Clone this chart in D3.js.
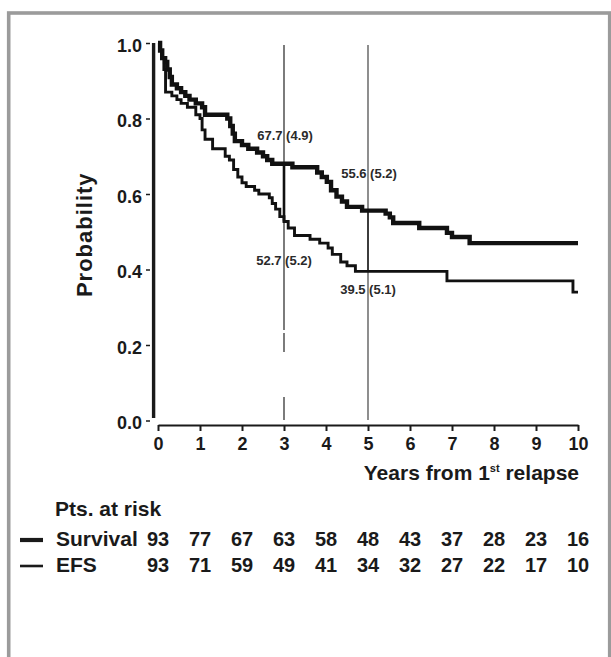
<!DOCTYPE html>
<html>
<head>
<meta charset="utf-8">
<script src="https://cdn.jsdelivr.net/npm/d3@7"></script>
<style>
    html, body { margin: 0; padding: 0; background: #fff; }
    svg { display: block; font-family: 'Liberation Sans', Arial, sans-serif; font-weight: bold; }
</style>
</head>
<body>
<div id="chart"></div>
<script>
/* ===== KAPLAN-MEIER PLOT: SURVIVAL / EFS AFTER 1ST RELAPSE ===== */

// x axis ticks (years) and y axis ticks (probability)
const years = [0, 1, 2, 3, 4, 5, 6, 7, 8, 9, 10];
const probTicks = [0, 0.2, 0.4, 0.6, 0.8, 1.0];

// step points [years, probability]
const survivalSteps = [
    [0, 1.0], [0.05, 0.98], [0.1, 0.96], [0.17, 0.95], [0.22, 0.93], [0.28, 0.91],
    [0.33, 0.89], [0.45, 0.88], [0.55, 0.87], [0.65, 0.86], [0.75, 0.85], [0.9, 0.84],
    [1.05, 0.83], [1.12, 0.81], [1.65, 0.80], [1.72, 0.78], [1.78, 0.76], [1.83, 0.74],
    [2.0, 0.73], [2.15, 0.72], [2.36, 0.71], [2.5, 0.70], [2.6, 0.69], [2.72, 0.68],
    [3.2, 0.671], [3.79, 0.657], [3.9, 0.645], [4.02, 0.632], [4.12, 0.61], [4.25, 0.593],
    [4.38, 0.58], [4.5, 0.566], [4.86, 0.556], [5.42, 0.548], [5.52, 0.538], [5.6, 0.523],
    [6.22, 0.51], [6.88, 0.497], [7.0, 0.486], [7.42, 0.47], [10, 0.47]
];

const efsSteps = [
    [0, 1.0], [0.05, 0.98], [0.1, 0.96], [0.14, 0.93], [0.18, 0.87], [0.33, 0.86],
    [0.45, 0.85], [0.55, 0.84], [0.7, 0.83], [0.9, 0.81], [1.0, 0.80], [1.05, 0.77],
    [1.12, 0.745], [1.3, 0.72], [1.6, 0.70], [1.7, 0.69], [1.8, 0.665], [1.9, 0.645],
    [2.0, 0.63], [2.1, 0.62], [2.3, 0.61], [2.4, 0.60], [2.65, 0.59], [2.72, 0.575],
    [2.8, 0.56], [2.9, 0.54], [3.0, 0.527], [3.1, 0.51], [3.25, 0.49], [3.62, 0.48],
    [3.85, 0.47], [4.05, 0.457], [4.15, 0.44], [4.35, 0.42], [4.5, 0.41], [4.7, 0.395],
    [6.88, 0.37], [9.88, 0.34], [10, 0.34]
];

// landmark estimates (%) with standard error
const landmarkYears = [3, 5];
const landmarkSurvival = [67.7, 55.6];
const landmarkSurvivalSe = [4.9, 5.2];
const landmarkEfs = [52.7, 39.5];
const landmarkEfsSe = [5.2, 5.1];

// patients at risk at each year
const riskLabels = ['Survival', 'EFS'];
const riskSurvival = [93, 77, 67, 63, 58, 48, 43, 37, 28, 23, 16];
const riskEfs = [93, 71, 59, 49, 41, 34, 32, 27, 22, 17, 10];

const W = 611, H = 657;
const ink = '#1a1a1a';

const svg = d3.select('#chart')
    .append('svg')
    .attr('width', W)
    .attr('height', H);

// gray frame
svg.append('rect')
    .attr('x', 8.7)
    .attr('y', 13)
    .attr('width', 601)
    .attr('height', 700)
    .attr('fill', '#fff')
    .attr('stroke', '#9b9b9b')
    .attr('stroke-width', 3.6);

const x = d3.scaleLinear().domain([0, 10]).range([158, 578]);
const y = d3.scaleLinear().domain([0, 1]).range([420.5, 43]);

// x axis
const xAxis = svg.append('g')
    .attr('transform', 'translate(0,425)')
    .call(d3.axisBottom(x).tickValues(years).tickSize(6).tickSizeOuter(0).tickPadding(6).tickFormat(d3.format('d')));
xAxis.select('.domain').attr('stroke', ink).attr('stroke-width', 2.2);
xAxis.selectAll('.tick line').attr('stroke', ink).attr('stroke-width', 2);
xAxis.selectAll('.tick text')
    .attr('fill', ink)
    .style('font-size', '18px')
    .style('font-weight', 'bold');

// y axis (small ticks + labels), thick axis line drawn separately
const yAxis = svg.append('g')
    .attr('transform', 'translate(150,0)')
    .call(d3.axisLeft(y).tickValues(probTicks).tickSize(4).tickPadding(4).tickFormat(d3.format('.1f')));
yAxis.select('.domain').remove();
yAxis.selectAll('.tick line').attr('stroke', ink).attr('stroke-width', 1.5);
yAxis.selectAll('.tick text')
    .attr('fill', ink)
    .attr('dy', '0.45em')
    .style('font-size', '18px')
    .style('font-weight', 'bold');

svg.append('line')
    .attr('x1', 153.6).attr('x2', 153.6)
    .attr('y1', y(1)).attr('y2', 418)
    .attr('stroke', ink)
    .attr('stroke-width', 3.4);

// landmark vertical lines at 3 and 5 years
svg.selectAll('.landmark')
    .data(landmarkYears)
    .enter()
    .append('line')
    .attr('class', 'landmark')
    .attr('x1', d => x(d)).attr('x2', d => x(d))
    .attr('y1', 45).attr('y2', 420)
    .attr('stroke', (d, i) => i === 0 ? '#111' : '#444')
    .attr('stroke-width', (d, i) => i === 0 ? 1.1 : 1.2)
    .attr('stroke-dasharray', (d, i) => i === 0 ? '285,3,19,45,40' : null);

// connector between survival and EFS at each landmark
svg.selectAll('.connector')
    .data(landmarkYears)
    .enter()
    .append('line')
    .attr('class', 'connector')
    .attr('x1', d => x(d)).attr('x2', d => x(d))
    .attr('y1', (d, i) => y(landmarkSurvival[i] / 100))
    .attr('y2', (d, i) => y(landmarkEfs[i] / 100))
    .attr('stroke', (d, i) => i === 0 ? '#111' : '#333')
    .attr('stroke-width', (d, i) => i === 0 ? 2.6 : 1.8);

// curves
const line = d3.line()
    .x(d => x(d[0]))
    .y(d => y(d[1]))
    .curve(d3.curveStepAfter);

svg.append('path')
    .datum(efsSteps)
    .attr('d', line)
    .attr('fill', 'none')
    .attr('stroke', '#111')
    .attr('stroke-width', 2.9);

svg.append('path')
    .datum(survivalSteps)
    .attr('d', line)
    .attr('fill', 'none')
    .attr('stroke', '#111')
    .attr('stroke-width', 4.4);

// landmark labels
const fmt = (v, se) => `${v.toFixed(1)} (${se.toFixed(1)})`;
const labelG = svg.append('g')
    .attr('fill', '#2a2a2a')
    .style('font-size', '13px')
    .attr('text-anchor', 'middle');

landmarkYears.forEach((yr, i) => {
    labelG.append('text')
        .attr('x', x(yr) + 1)
        .attr('y', y(landmarkSurvival[i] / 100) - (i === 0 ? 25 : 33))
        .text(fmt(landmarkSurvival[i], landmarkSurvivalSe[i]));
    labelG.append('text')
        .attr('x', x(yr))
        .attr('y', y(landmarkEfs[i] / 100) + (i === 0 ? 43 : 23))
        .text(fmt(landmarkEfs[i], landmarkEfsSe[i]));
});

// axis titles
svg.append('text')
    .attr('transform', `translate(92,${(y(0) + y(1)) / 2 + 3}) rotate(-90)`)
    .attr('text-anchor', 'middle')
    .attr('fill', ink)
    .style('font-size', '22px')
    .style('letter-spacing', '1px')
    .text('Probability');

const xTitle = svg.append('text')
    .attr('x', 579)
    .attr('y', 480)
    .attr('text-anchor', 'end')
    .attr('fill', ink)
    .style('font-size', '21px');
xTitle.append('tspan').text('Years from 1');
xTitle.append('tspan').attr('dy', -8).style('font-size', '11px').text('st');
xTitle.append('tspan').attr('dy', 8).text(' relapse');

// patients at risk table
svg.append('text')
    .attr('x', 55)
    .attr('y', 516)
    .attr('fill', ink)
    .style('font-size', '21px')
    .text('Pts. at risk');

const rows = [riskSurvival, riskEfs];
const rowBase = [546, 572];
const legendY = [540, 566];
const legendW = [4.2, 2.6];

rows.forEach((vals, r) => {
    svg.append('line')
        .attr('x1', 20).attr('x2', 43)
        .attr('y1', legendY[r]).attr('y2', legendY[r])
        .attr('stroke', ink)
        .attr('stroke-width', legendW[r]);

    svg.append('text')
        .attr('x', 56)
        .attr('y', rowBase[r])
        .attr('fill', ink)
        .style('font-size', '21px')
        .text(riskLabels[r]);

    svg.selectAll(`.risk-${r}`)
        .data(vals)
        .enter()
        .append('text')
        .attr('class', `risk-${r}`)
        .attr('x', (d, i) => x(years[i]))
        .attr('y', rowBase[r])
        .attr('text-anchor', 'middle')
        .attr('fill', ink)
        .style('font-size', '20px')
        .text(d => d);
});
</script>
</body>
</html>
